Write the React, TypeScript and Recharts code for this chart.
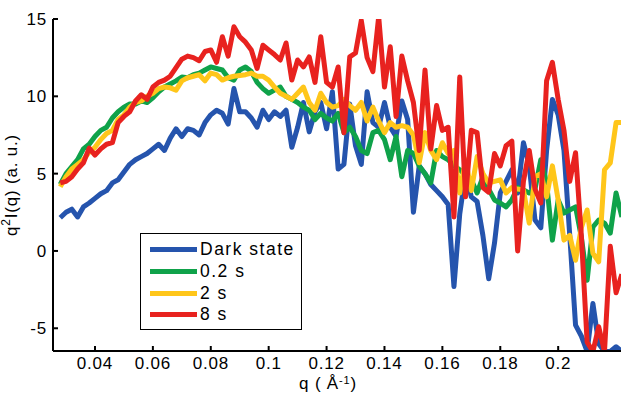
import { LineChart, Line, XAxis, YAxis, Legend } from 'recharts'

const qValues = [
  0.028, 0.03, 0.032, 0.034, 0.036, 0.038, 0.04, 0.042, 0.044, 0.046,
  0.048, 0.05, 0.052, 0.054, 0.056, 0.058, 0.06, 0.062, 0.064, 0.066,
  0.068, 0.07, 0.072, 0.074, 0.076, 0.078, 0.08, 0.082, 0.084, 0.086,
  0.088, 0.09, 0.092, 0.094, 0.096, 0.098, 0.1, 0.102, 0.104, 0.106,
  0.108, 0.11, 0.112, 0.114, 0.116, 0.118, 0.12, 0.122, 0.124, 0.126,
  0.128, 0.13, 0.132, 0.134, 0.136, 0.138, 0.14, 0.142, 0.144, 0.146,
  0.148, 0.15, 0.152, 0.154, 0.156, 0.158, 0.16, 0.162, 0.164, 0.166,
  0.168, 0.17, 0.172, 0.174, 0.176, 0.178, 0.18, 0.182, 0.184, 0.186,
  0.188, 0.19, 0.192, 0.194, 0.196, 0.198, 0.2, 0.202, 0.204, 0.206,
  0.208, 0.21, 0.212, 0.214, 0.216, 0.218, 0.22, 0.222,
]

const darkState = [
  2.15, 2.5, 2.7, 2.2, 2.85, 3.1, 3.4, 3.7, 3.9, 4.4,
  4.6, 5.1, 5.6, 5.9, 6.1, 6.3, 6.6, 6.9, 6.5, 7.3,
  7.9, 7.4, 7.9, 7.8, 7.5, 8.3, 8.8, 9.1, 8.9, 8.2,
  10.5, 9.0, 9.0, 8.6, 8.0, 9.1, 8.5, 9.0, 8.7, 9.1,
  6.7, 8.0, 9.6, 7.7, 9.0, 9.6, 7.9, 10.3, 5.3, 5.6,
  9.5, 6.8, 5.6, 10.3, 8.3, 8.0, 9.6, 8.0, 7.4, 9.7,
  8.5, 2.5, 5.5, 5.0, 4.3, 3.9, 3.5, 3.0, -2.3, 2.4,
  5.0, 3.5, 3.2, 1.0, -1.8, 0.5, 3.75, 4.5, 5.25, 3.75,
  7.0, 5.5, 2.0, 1.5, 6.5, 9.8, 8.8, 6.5, 1.0, -4.8,
  -5.5, -6.5, -3.4, -6.0, -6.5, -6.5, -6.2, -6.5,
]

const s02 = [
  4.3, 5.0, 5.45, 5.9, 6.6, 6.9, 7.4, 7.8, 8.0, 8.6,
  9.0, 9.3, 9.5, 9.5, 9.7, 9.6, 9.9, 10.3, 10.6, 10.8,
  11.0, 11.25, 11.2, 11.4, 11.5, 11.7, 11.9, 11.8, 11.7, 11.2,
  11.05, 11.7, 11.9, 11.6, 10.9, 10.5, 10.2, 10.4, 10.6, 10.0,
  9.8, 9.6, 9.3, 9.1, 8.5, 8.9, 8.6, 8.4, 8.9, 7.65,
  8.0, 7.4, 6.5, 6.3, 7.65, 7.8, 7.2, 5.9, 7.4, 4.8,
  6.5, 6.3, 5.5, 5.0, 4.4, 6.5, 6.1, 5.9, 5.5, 5.25,
  4.9, 4.6, 3.75, 4.8, 4.0, 3.3, 3.1, 2.85, 3.3, 4.1,
  3.95, 3.75, 4.0, 5.9, 4.4, 0.7, 3.3, 2.45, 2.65, 2.85,
  0.9, -1.9, 1.55, 2.0, 1.8, 1.15, 3.75, 2.2,
]

const s2 = [
  4.15, 4.8, 5.3, 5.6, 5.9, 6.4, 6.7, 7.2, 7.6, 7.8,
  8.5, 8.8, 9.3, 9.6, 9.7, 10.0, 10.2, 10.5, 10.6, 10.55,
  10.4, 11.0, 11.2, 11.3, 11.4, 11.0, 11.5, 11.4, 11.05, 11.2,
  11.3, 11.35, 11.4, 11.5, 11.3, 11.3, 11.05, 10.6, 10.2, 10.0,
  9.8, 10.2, 10.6, 9.6, 9.1, 10.2, 9.6, 9.3, 9.4, 9.8,
  9.4, 9.1, 9.6, 8.4, 9.3, 8.4, 7.65, 8.3, 8.0, 8.1,
  8.0, 7.5, 5.7, 7.65, 6.5, 5.9, 7.0, 6.3, 6.5, 3.75,
  5.9, 3.9, 6.1, 5.0, 4.4, 4.5, 4.6, 3.75, 4.1, 4.0,
  3.95, 1.8, 4.8, 5.0, 3.5, 5.5, 3.3, 0.7, 1.0, -0.6,
  1.5, 2.65, -0.15, -0.7, 5.25, 5.7, 8.3, 8.3,
]

const s8 = [
  4.4, 4.5, 4.8, 5.3, 5.7, 6.65, 6.2, 6.6, 6.9, 7.0,
  8.3, 8.7, 9.0, 9.7, 10.1, 9.8, 10.6, 10.9, 11.05, 11.3,
  11.85, 12.4, 12.6, 12.5, 12.3, 12.9, 13.0, 12.2, 13.85, 12.6,
  14.5, 13.85, 13.5, 13.0, 11.8, 13.3, 13.0, 12.7, 12.35, 13.45,
  11.05, 12.35, 11.9, 12.55, 10.9, 13.85, 10.9, 10.6, 11.9, 7.65,
  12.55, 12.8, 14.9, 12.5, 11.6, 15.15, 10.6, 13.2, 8.7, 12.6,
  11.0, 9.6, 6.5, 11.7, 6.6, 9.4, 7.8, 8.0, 2.2, 11.25,
  3.5, 7.8, 7.65, 4.1, 3.8, 6.3, 5.5, 6.8, 7.1, 0.0,
  4.5, 6.5, 4.0, 3.1, 11.0, 12.2, 9.8, 7.8, 4.5, 6.35,
  1.0, -5.9, -6.5, -4.9, -6.5, 0.3, -2.7, -1.5,
]

const xTicks = [0.04, 0.06, 0.08, 0.1, 0.12, 0.14, 0.16, 0.18, 0.2]
const yTicks = [-5, 0, 5, 10, 15]

const SERIES = [
  { key: 'dark', name: 'Dark state', color: '#2554ad' },
  { key: 's02', name: '0.2 s', color: '#0fa24a' },
  { key: 's2', name: '2 s', color: '#ffc61a' },
  { key: 's8', name: '8 s', color: '#e8221f' },
]

const data = qValues.map((q, i) => ({
  q,
  dark: darkState[i],
  s02: s02[i],
  s2: s2[i],
  s8: s8[i],
}))

const FONT = '"Liberation Sans", Arial, sans-serif'
const tickStyle = { fontSize: 17, fontFamily: FONT, fill: '#000', letterSpacing: 0.8 }

function LegendBox() {
  return (
    <div
      style={{
        border: '1px solid #000',
        background: '#fff',
        padding: '5px 6px 3px 9px',
        fontFamily: FONT,
        fontSize: 17.5,
        letterSpacing: 1.5,
        color: '#000',
        width: 145,
      }}
    >
      {SERIES.map((s) => (
        <div key={s.key} style={{ display: 'flex', alignItems: 'center', height: 21.7 }}>
          <div style={{ width: 47, height: 5, background: s.color, marginRight: 3 }} />
          <span style={{ whiteSpace: 'nowrap' }}>{s.name}</span>
        </div>
      ))}
    </div>
  )
}

export default function App() {
  return (
    <div style={{ position: 'absolute', left: 0, top: 0, background: '#fff' }}>
      <LineChart width={621} height={396} data={data} margin={{ top: 19, right: 0, bottom: 0, left: 0 }}>
        <XAxis
          dataKey="q"
          type="number"
          domain={[0.0255, 0.2217]}
          allowDataOverflow
          ticks={xTicks}
          tickFormatter={(v: number) => String(+v.toFixed(2))}
          height={45}
          tickSize={-5}
          tickMargin={11}
          axisLine={{ stroke: '#000', strokeWidth: 2 }}
          tickLine={{ stroke: '#000', strokeWidth: 2 }}
          tick={tickStyle}
          label={{
            content: () => (
              <text x={328} y={389} textAnchor="middle" fontFamily={FONT} fontSize={17} letterSpacing={0.8} fill="#000">
                q ( Å<tspan dy={-5} fontSize={11}>-1</tspan>
                <tspan dy={5}>)</tspan>
              </text>
            ),
          }}
        />
        <YAxis
          type="number"
          domain={[-6.47, 15]}
          allowDataOverflow
          ticks={yTicks}
          width={53}
          tickSize={-5}
          tickMargin={11}
          axisLine={{ stroke: '#000', strokeWidth: 2 }}
          tickLine={{ stroke: '#000', strokeWidth: 2 }}
          tick={tickStyle}
          label={{
            content: () => (
              <text
                transform="translate(17, 185) rotate(-90)"
                textAnchor="middle"
                fontFamily={FONT}
                fontSize={17}
                letterSpacing={0.8}
                fill="#000"
              >
                q<tspan dy={-7} fontSize={12}>2</tspan>
                <tspan dy={7}>I(q) (a. u.)</tspan>
              </text>
            ),
          }}
        />
        <Legend
          layout="vertical"
          align="center"
          verticalAlign="middle"
          wrapperStyle={{ left: 140, top: 233, width: 'auto', height: 'auto' }}
          content={() => <LegendBox />}
        />
        {SERIES.map((s) => (
          <Line
            key={s.key}
            dataKey={s.key}
            name={s.name}
            type="linear"
            stroke={s.color}
            strokeWidth={5}
            strokeLinejoin="round"
            dot={false}
            activeDot={false}
            isAnimationActive={false}
          />
        ))}
      </LineChart>
    </div>
  )
}
